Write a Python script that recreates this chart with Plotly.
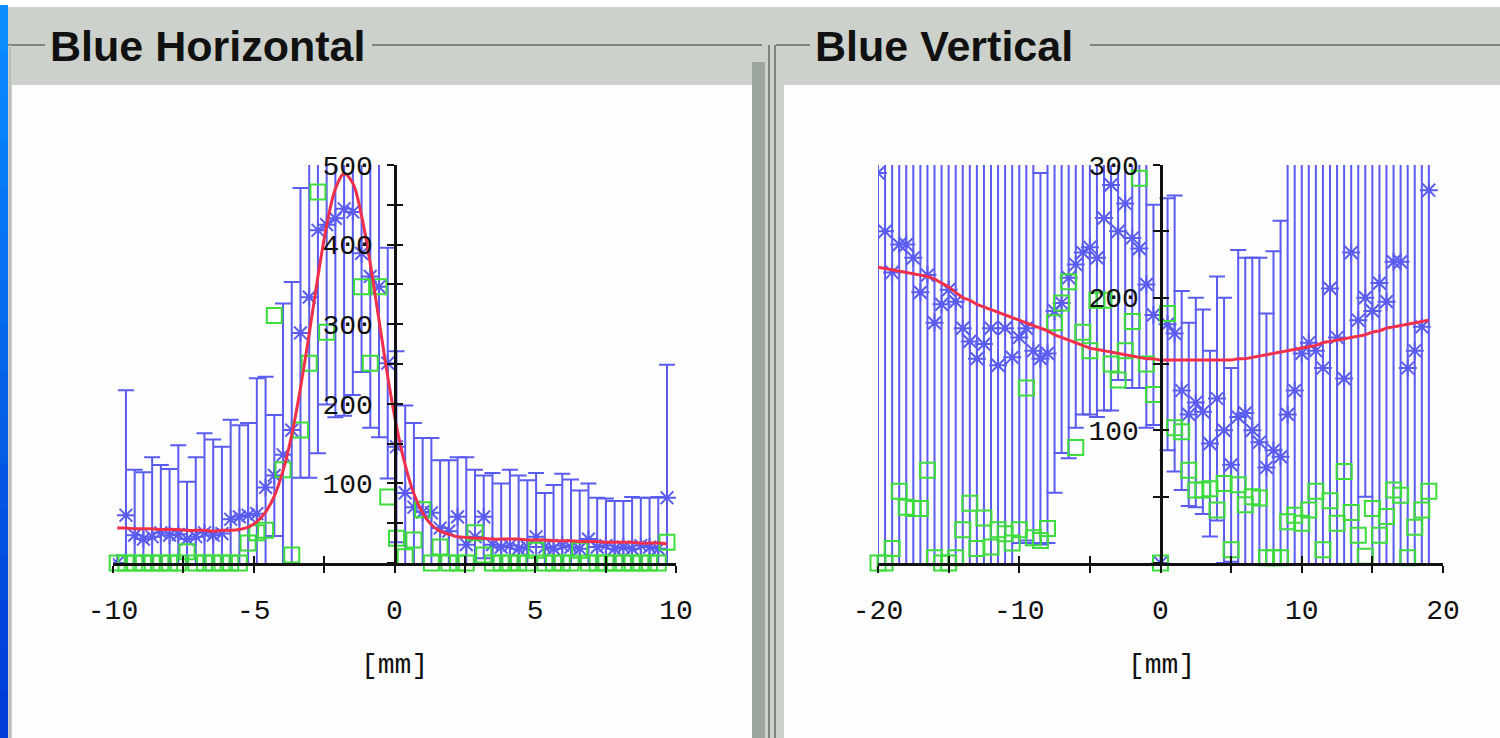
import plotly.graph_objects as go

# ---------------- data: Blue Horizontal ----------------
LX = [-9.85, -9.54, -9.23, -8.92, -8.61, -8.30, -7.99, -7.68, -7.37, -7.06,
      -6.75, -6.44, -6.13, -5.82, -5.51, -5.20, -4.89, -4.58, -4.27, -3.96,
      -3.65, -3.34, -3.03, -2.72, -2.41, -2.10, -1.79, -1.48, -1.17, -0.86,
      -0.55, -0.24, 0.07, 0.38, 0.69, 1.00, 1.31, 1.62, 1.93, 2.24,
      2.55, 2.86, 3.17, 3.48, 3.79, 4.10, 4.41, 4.72, 5.03, 5.34,
      5.65, 5.96, 6.27, 6.58, 6.89, 7.20, 7.51, 7.82, 8.13, 8.44,
      8.75, 9.06, 9.37, 9.68]
L_BLUE = [0, 60, 35, 30, 33, 38, 35, 36, 30, 33,
          38, 35, 37, 55, 58, 60, 62, 95, 110, 136,
          167, 289, 334, 418, 425, 433, 445, 441, 389, 360,
          347, 251, 146, 88, 70, 64, 63, 44, 40, 58,
          23, 33, 58, 23, 20, 22, 18, 20, 33, 20,
          18, 22, 20, 18, 30, 20, 22, 18, 20, 18,
          22, 20, 18, 82]
L_ERR = [0, 157, 82, 84, 100, 85, 83, 112, 72, 100,
         125, 120, 109, 125, 115, 116, 170, 139, 76, 190,
         186, 182, 227, 280, 226, 250, 260, 230, 149, 190,
         189, 145, 120, 110, 106, 93, 94, 85, 89, 75,
         110, 84, 52, 90, 80, 95, 92, 84, 80, 68,
         80, 90, 85, 73, 70, 62, 59, 60, 58, 65,
         60, 62, 65, 167]
# None = raw point above the plotted range (not visible in the reference)
L_GREEN = [0, 0, 0, 0, 0, 0, 0, 0, 14, 0,
           0, 0, 0, 0, 0, 25, 38, 41, 311, 117,
           10, 167, 251, 466, 290, None, None, None, 347, 251,
           347, 83, 31, 8, 29, 67, 0, 20, 0, 0,
           0, 38, 10, 0, 0, 0, 0, 0, 16, 0,
           0, 0, 0, 16, 0, 0, 0, 0, 0, 0,
           0, 0, 0, 26]
L_FIT = [44, 44, 43, 43, 43, 42, 42, 42, 41, 41,
         41, 40, 41, 41, 42, 45, 52, 64, 84, 116,
         161, 220, 288, 360, 424, 470, 489, 477, 436, 376,
         305, 234, 172, 123, 87, 63, 48, 40, 36, 33,
         32, 31, 31, 30, 30, 30, 30, 29, 29, 29,
         28, 28, 28, 27, 27, 27, 26, 26, 26, 26,
         25, 25, 25, 24]

# ---------------- data: Blue Vertical ----------------
RX = [-20.0, -19.5, -19.0, -18.5, -18.0, -17.5, -17.0, -16.5, -16.0, -15.5,
      -15.0, -14.5, -14.0, -13.5, -13.0, -12.5, -12.0, -11.5, -11.0, -10.5,
      -10.0, -9.5, -9.0, -8.5, -8.0, -7.5, -7.0, -6.5, -6.0, -5.5,
      -5.0, -4.5, -4.0, -3.5, -3.0, -2.5, -2.0, -1.5, -1.0, -0.5,
      0.0, 0.5, 1.0, 1.5, 2.0, 2.5, 3.0, 3.5, 4.0, 4.5,
      5.0, 5.5, 6.0, 6.5, 7.0, 7.5, 8.0, 8.5, 9.0, 9.5,
      10.0, 10.5, 11.0, 11.5, 12.0, 12.5, 13.0, 13.5, 14.0, 14.5,
      15.0, 15.5, 16.0, 16.5, 17.0, 17.5, 18.0, 18.5, 19.0]
R_BLUE = [294, 250, 219, 240, 240, 230, 204, 217, 181, 195,
          206, 197, 177, 167, 154, 165, 177, 149, 177, 155,
          170, 177, 160, 154, 158, 190, 196, 215, 225, 234,
          238, 230, 260, 285, 250, 271, 245, 237, 210, 187,
          0, 180, 173, 130, 112, 121, 114, 90, 124, 100,
          74, 110, 113, 100, 91, 72, 85, 80, 112, 130,
          158, 166, 160, 147, 207, 170, 139, 234, 183, 200,
          190, 211, 197, 227, 227, 147, 160, 178, 281]
R_ERR = [320, 320, 320, 320, 320, 320, 320, 320, 320, 320,
         320, 320, 320, 320, 320, 320, 320, 320, 320, 320,
         155, 160, 145, 140, 143, 137, 113, 136, 123, 122,
         126, 120, 145, 170, 112, 133, 113, 105, 108, 83,
         0, 95, 104, 75, 69, 79, 77, 70, 92, 100,
         73, 126, 117, 130, 139, 116, 150, 178, 320, 320,
         320, 320, 320, 320, 320, 320, 320, 320, 320, 150,
         320, 320, 320, 320, 320, 320, 320, 320, 320]
R_GREEN = [0, 0, 11, 54, 42, 41, 41, 70, 4, 0,
           0, 4, 25, 45, 11, 34, 12, 25, 22, 15,
           25, 132, 19, 17, 26, 181, 196, 212, 87, 174,
           160, 198, 198, 150, 138, 160, 182, 290, 150, 127,
           0, 188, 102, 99, 70, 55, 55, 56, 40, 60,
           10, 59, 44, 50, 49, 4, 4, 4, 31, 36,
           30, 40, 54, 10, 47, 30, 69, 38, 21, 5,
           41, 21, 35, 55, 51, 4, 27, 40, 54]
R_FIT = [223, 222, 221, 220, 219, 218, 217, 216, 214, 211,
         208, 204, 200, 198, 195, 193, 191, 189, 187, 185,
         183, 181, 179, 177, 175, 172, 170, 168, 166, 164,
         162, 161, 160, 159, 158, 157, 156, 155, 154, 154,
         153, 153, 153, 153, 153, 153, 153, 153, 153, 153,
         153, 154, 154, 155, 156, 157, 158, 159, 160, 161,
         162, 163, 164, 166, 167, 168, 169, 170, 171, 172,
         174, 175, 177, 178, 179, 180, 181, 182, 183]

L_XTICKS = [-10, -7.5, -5, -2.5, 0, 2.5, 5, 7.5, 10]
L_XTEXT = ["-10", "", "-5", "", "0", "", "5", "", "10"]
L_YTICKS = [0, 50, 100, 150, 200, 250, 300, 350, 400, 450, 500]
L_YTEXT = ["", "", "100", "", "200", "", "300", "", "400", "", "500"]
R_XTICKS = [-20, -15, -10, -5, 0, 5, 10, 15, 20]
R_XTEXT = ["-20", "", "-10", "", "0", "", "10", "", "20"]
R_YTICKS = [0, 50, 100, 150, 200, 250, 300]
R_YTEXT = ["", "", "100", "", "200", "", "300"]
TITLES = ["Blue Horizontal", "Blue Vertical"]
UNIT = "[mm]"

# ---------------- style ----------------
W, H = 1500, 738
BLUE = "#5a5cf0"
GREEN = "#3ddc3d"
RED = "#f0304a"
BG = "#cdd1cc"
MONO = "Liberation Mono, DejaVu Sans Mono, monospace"
SANS = "Liberation Sans, Arial, sans-serif"


def fx(p):
    return p / W


def fy(p):
    return 1 - p / H


fig = go.Figure()


def panel(xs, blue, err, green, fit, xa, ya):
    fig.add_trace(go.Scatter(
        x=xs, y=blue, mode="markers", xaxis=xa, yaxis=ya, cliponaxis=True,
        marker=dict(symbol="asterisk-open", size=15, color=BLUE,
                    line=dict(color=BLUE, width=2)),
        error_y=dict(type="data", array=err, visible=True, color=BLUE,
                     thickness=2, width=8),
        showlegend=False, hoverinfo="skip"))
    fig.add_trace(go.Scatter(
        x=xs, y=green, mode="markers", xaxis=xa, yaxis=ya, cliponaxis=False,
        marker=dict(symbol="square-open", size=15, color=GREEN,
                    line=dict(color=GREEN, width=2)),
        showlegend=False, hoverinfo="skip"))
    fig.add_trace(go.Scatter(
        x=xs, y=fit, mode="lines", xaxis=xa, yaxis=ya, cliponaxis=True,
        line=dict(color=RED, width=3, shape="spline"),
        showlegend=False, hoverinfo="skip"))


panel(LX, L_BLUE, L_ERR, L_GREEN, L_FIT, "x", "y")
panel(RX, R_BLUE, R_ERR, R_GREEN, R_FIT, "x2", "y2")
for xa, ya in (("x3", "y3"), ("x4", "y4")):
    fig.add_trace(go.Scatter(x=[], y=[], xaxis=xa, yaxis=ya, showlegend=False))

Y0, Y1 = 563, 165
LX0, LX1 = 113, 676
RX0, RX1 = 878, 1443
tickfont = dict(family=MONO, size=28, color="#111111")

common_x = dict(showgrid=False, zeroline=False, showline=True, linecolor="#111",
                linewidth=3, ticks="outside", ticklen=7, tickwidth=2,
                tickcolor="#111", tickfont=tickfont, fixedrange=True,
                automargin=False, ticklabelstandoff=12)
common_y = dict(showgrid=False, zeroline=False, showline=True, linecolor="#111",
                linewidth=3, ticks="outside", ticklen=7, tickwidth=2,
                tickcolor="#111", tickfont=tickfont, fixedrange=True,
                automargin=False, ticklabelstandoff=8)
over = dict(showgrid=False, zeroline=False, showline=False, ticks="inside",
            ticklen=7, tickwidth=2, tickcolor="#111", showticklabels=False,
            fixedrange=True, automargin=False)

lpos = fx(LX0 + (0 - (-10)) / 20 * (LX1 - LX0))
rpos = fx(RX0 + (0 - (-20)) / 40 * (RX1 - RX0))

fig.update_layout(
    template="none",
    width=W, height=H, margin=dict(l=0, r=0, t=0, b=0, pad=0, autoexpand=False),
    paper_bgcolor=BG, plot_bgcolor="rgba(0,0,0,0)", showlegend=False,
    xaxis=dict(domain=[fx(LX0), fx(LX1)], range=[-10, 10], anchor="y",
               tickmode="array", tickvals=L_XTICKS, ticktext=L_XTEXT, **common_x),
    yaxis=dict(domain=[fy(Y0), fy(Y1)], range=[0, 500], anchor="free",
               position=lpos, tickmode="array", tickvals=L_YTICKS,
               ticktext=L_YTEXT, **common_y),
    xaxis2=dict(domain=[fx(RX0), fx(RX1)], range=[-20, 20], anchor="y2",
                tickmode="array", tickvals=R_XTICKS, ticktext=R_XTEXT, **common_x),
    yaxis2=dict(domain=[fy(Y0), fy(Y1)], range=[0, 300], anchor="free",
                position=rpos, tickmode="array", tickvals=R_YTICKS,
                ticktext=R_YTEXT, **common_y),
    xaxis3=dict(overlaying="x", range=[-10, 10], anchor="y", tickmode="array",
                tickvals=L_XTICKS, **over),
    yaxis3=dict(overlaying="y", range=[0, 500], anchor="free", position=lpos,
                tickmode="array", tickvals=L_YTICKS, **over),
    xaxis4=dict(overlaying="x2", range=[-20, 20], anchor="y2", tickmode="array",
                tickvals=R_XTICKS, **over),
    yaxis4=dict(overlaying="y2", range=[0, 300], anchor="free", position=rpos,
                tickmode="array", tickvals=R_YTICKS, **over),
)

shapes = []


def rect(x0, y0, x1, y1, color):
    shapes.append(dict(type="rect", xref="paper", yref="paper", layer="below",
                       x0=fx(x0), x1=fx(x1), y0=fy(y1), y1=fy(y0),
                       fillcolor=color, line=dict(width=0)))


def hline(x0, x1, y, color, w=2):
    shapes.append(dict(type="line", xref="paper", yref="paper", layer="below",
                       x0=fx(x0), x1=fx(x1), y0=fy(y), y1=fy(y),
                       line=dict(color=color, width=w)))


def vline(x, y0, y1, color, w=2):
    shapes.append(dict(type="line", xref="paper", yref="paper", layer="below",
                       x0=fx(x), x1=fx(x), y0=fy(y0), y1=fy(y1),
                       line=dict(color=color, width=w)))


rect(0, 0, W, 7, "#ffffff")
n = 16
for i in range(n):
    t = i / (n - 1)
    r = int(10 * (1 - t))
    g = int(140 * (1 - t) + 60 * t)
    b = int(255 * (1 - t) + 215 * t)
    rect(0, 5 + i * (H - 5) / n, 8, 5 + (i + 1) * (H - 5) / n + 1,
         "rgb(%d,%d,%d)" % (r, g, b))
rect(12, 85, 752, H, "#fdfdfd")
rect(784, 85, W, H, "#fdfdfd")
rect(752, 62, 765, H, "#9da59f")
hline(8, 45, 45, "#7a867e", 2)
hline(372, 762, 45, "#7a867e", 2)
hline(776, 810, 45, "#7a867e", 2)
hline(1090, W, 45, "#7a867e", 2)
vline(769, 45, H, "#7a867e", 2)
vline(775, 45, H, "#7a867e", 2)
vline(10, 45, H, "#b9c0ba", 2)

annotations = [
    dict(text="<b>%s</b>" % TITLES[0], x=fx(48), y=fy(46), xref="paper",
         yref="paper", xanchor="left", yanchor="middle", showarrow=False,
         font=dict(family=SANS, size=43, color="#111111")),
    dict(text="<b>%s</b>" % TITLES[1], x=fx(813), y=fy(46), xref="paper",
         yref="paper", xanchor="left", yanchor="middle", showarrow=False,
         font=dict(family=SANS, size=43, color="#111111")),
    dict(text=UNIT, x=fx(394), y=fy(665), xref="paper", yref="paper",
         xanchor="center", yanchor="middle", showarrow=False,
         font=dict(family=MONO, size=28, color="#111111")),
    dict(text=UNIT, x=fx(1161), y=fy(665), xref="paper", yref="paper",
         xanchor="center", yanchor="middle", showarrow=False,
         font=dict(family=MONO, size=28, color="#111111")),
]

fig.update_layout(shapes=shapes, annotations=annotations)
fig.write_html("out.html")
